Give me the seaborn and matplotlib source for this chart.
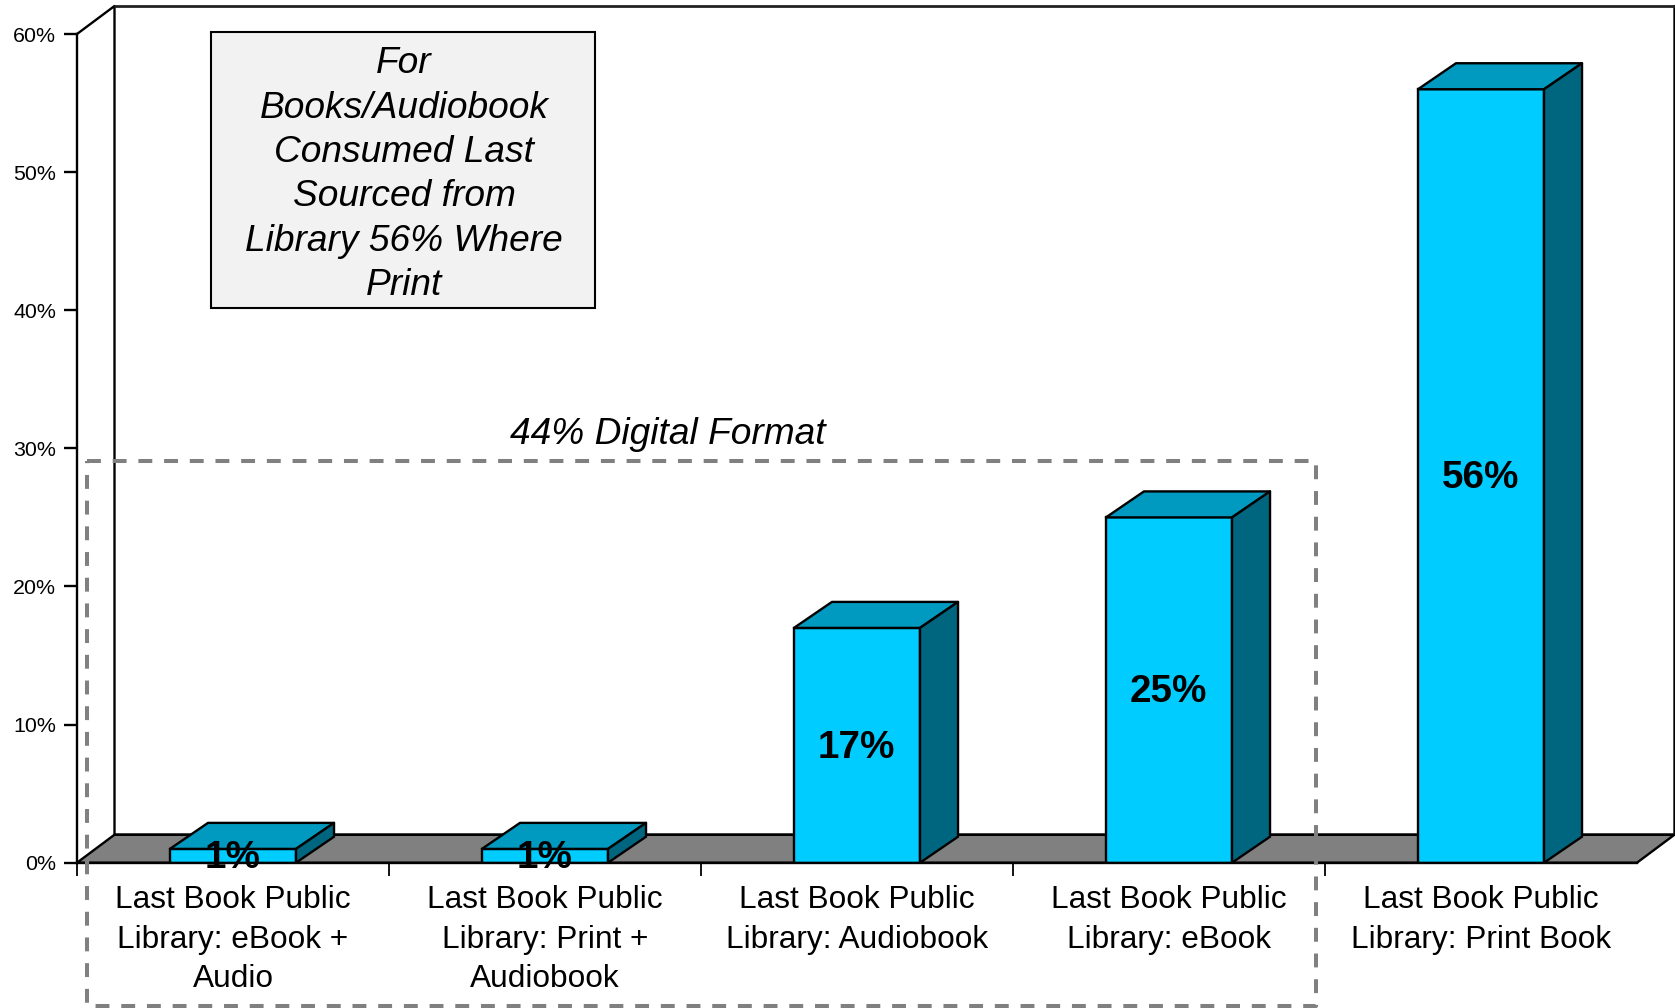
import matplotlib
matplotlib.use("Agg")
import matplotlib.pyplot as plt
from matplotlib.lines import Line2D
from matplotlib.patches import Polygon, Rectangle
import seaborn as sns
import pandas as pd

categories = ["Last Book Public\nLibrary: eBook +\nAudio",
              "Last Book Public\nLibrary: Print +\nAudiobook",
              "Last Book Public\nLibrary: Audiobook",
              "Last Book Public\nLibrary: eBook",
              "Last Book Public\nLibrary: Print Book"]
values = [1, 1, 17, 25, 56]
y_ticks = [0, 10, 20, 30, 40, 50, 60]
note_text = "For\nBooks/Audiobook\nConsumed Last\nSourced from\nLibrary 56% Where\nPrint"
digital_text = "44% Digital Format"

W, H = 1675, 1008
FRONT, TOP, SIDE, FLOOR = "#00CCFF", "#0099BF", "#006680", "#808080"
sns.set_theme(style="white")
plt.rcParams["font.family"] = ["Liberation Sans", "DejaVu Sans"]
plt.rcParams["lines.scale_dashes"] = False

fig = plt.figure(figsize=(W / 100, H / 100), dpi=100, facecolor="white")
x0, x1, y0, y1 = 77, 1637, 862.7, 34
ax = fig.add_axes([x0 / W, 1 - y0 / H, (x1 - x0) / W, (y0 - y1) / H])

df = pd.DataFrame({"cat": categories, "val": values})
LW = 1.7
sns.barplot(data=df, x="cat", y="val", color=FRONT, saturation=1, width=0.404,
            edgecolor="black", linewidth=LW, ax=ax, zorder=3)
ax.set_xlim(-0.5, 4.5)
ax.set_ylim(0, 60)
ax.patch.set_alpha(0)

unit_x = (x1 - x0) / 5
unit_y = (y0 - y1) / 60
dx = 37.5 / unit_x
dy = 28 / unit_y
bar_dx = 38 / unit_x
bar_dy = 26 / unit_y

# floor and back wall
ax.add_patch(Polygon([(-0.5, 0), (4.5, 0), (4.5 + dx, dy), (-0.5 + dx, dy)], closed=True,
                     fc=FLOOR, ec="black", lw=LW, clip_on=False, zorder=1))
ax.plot([-0.5, -0.5 + dx, -0.5 + dx, 4.5 + dx, 4.5 + dx],
        [60, 60 + dy, dy, dy, 60 + dy], color="black", lw=LW, clip_on=False, zorder=1)
ax.plot([-0.5 + dx, 4.5 + dx], [60 + dy, 60 + dy], color="#222222", lw=LW + 0.3,
        clip_on=False, zorder=1)

# 3D faces of each bar
for bar in ax.containers[0]:
    l, r = bar.get_x(), bar.get_x() + bar.get_width()
    h = bar.get_height()
    ax.add_patch(Polygon([(l, h), (r, h), (r + bar_dx, h + bar_dy), (l + bar_dx, h + bar_dy)],
                         closed=True, fc=TOP, ec="black", lw=LW, clip_on=False, zorder=3.1,
                         joinstyle="round"))
    ax.add_patch(Polygon([(r, 0), (r + bar_dx, bar_dy), (r + bar_dx, h + bar_dy), (r, h)],
                         closed=True, fc=SIDE, ec="black", lw=LW, clip_on=False, zorder=3.1,
                         joinstyle="round"))

labels = ax.bar_label(ax.containers[0], fmt="%g%%", label_type="center", fontsize=27.8,
                      fontweight="bold", color="black", zorder=6)
for lab in labels:
    lab.xyann = (-0.5, -1.6)

# axes, ticks, labels
sns.despine(ax=ax, top=True, right=True)
for s in ("left", "bottom"):
    ax.spines[s].set_color("black")
    ax.spines[s].set_linewidth(LW)
    ax.spines[s].set_zorder(2)
ax.spines["bottom"].set_zorder(5)
ax.set_xlabel("")
ax.set_ylabel("")
ax.set_yticks(y_ticks)
ax.set_yticklabels([f"{v}%" for v in y_ticks], fontsize=15.4, color="black")
ax.set_xticks([i - 0.5 for i in range(len(categories))])
ax.set_xticklabels([""] * len(categories))
ax.set_xticks(range(len(categories)), minor=True)
ax.set_xticklabels(categories, minor=True, fontsize=22.8, color="black",
                   linespacing=1.43, ha="center")
ax.tick_params(axis="y", which="major", left=True, length=9.5, width=LW, color="black", pad=5.5)
ax.tick_params(axis="x", which="major", bottom=True, length=9.5, width=1.3, color="black")
ax.tick_params(axis="x", which="minor", bottom=False, length=0, pad=15.8)


def fx(px):
    return px / W


def fy(py):
    return 1 - py / H


# annotation box
fig.add_artist(Rectangle((fx(211), fy(308)), (595 - 211) / W, (308 - 32) / H,
                         transform=fig.transFigure, fc="#F2F2F2", ec="black", lw=1.5, zorder=7))
fig.text(fx(404), fy(174.7), note_text, ha="center", va="center", fontsize=26.7,
         fontstyle="italic", color="black", linespacing=1.35, zorder=8)

# dashed digital-format box
bx0, bx1, by0, by1 = 87, 1316, 461, 1006
fig.add_artist(Line2D([fx(bx0), fx(bx1), fx(bx1), fx(bx0), fx(bx0)],
                      [fy(by0), fy(by0), fy(by1), fy(by1), fy(by0)],
                      transform=fig.transFigure, color="#808080", lw=2.9,
                      linestyle=(0, (10, 8.5)), zorder=9))
fig.text(fx(668), fy(435), digital_text, ha="center", va="center", fontsize=26.7,
         fontstyle="italic", color="black", zorder=8)

fig.savefig("out.png", dpi=100, facecolor="white")
